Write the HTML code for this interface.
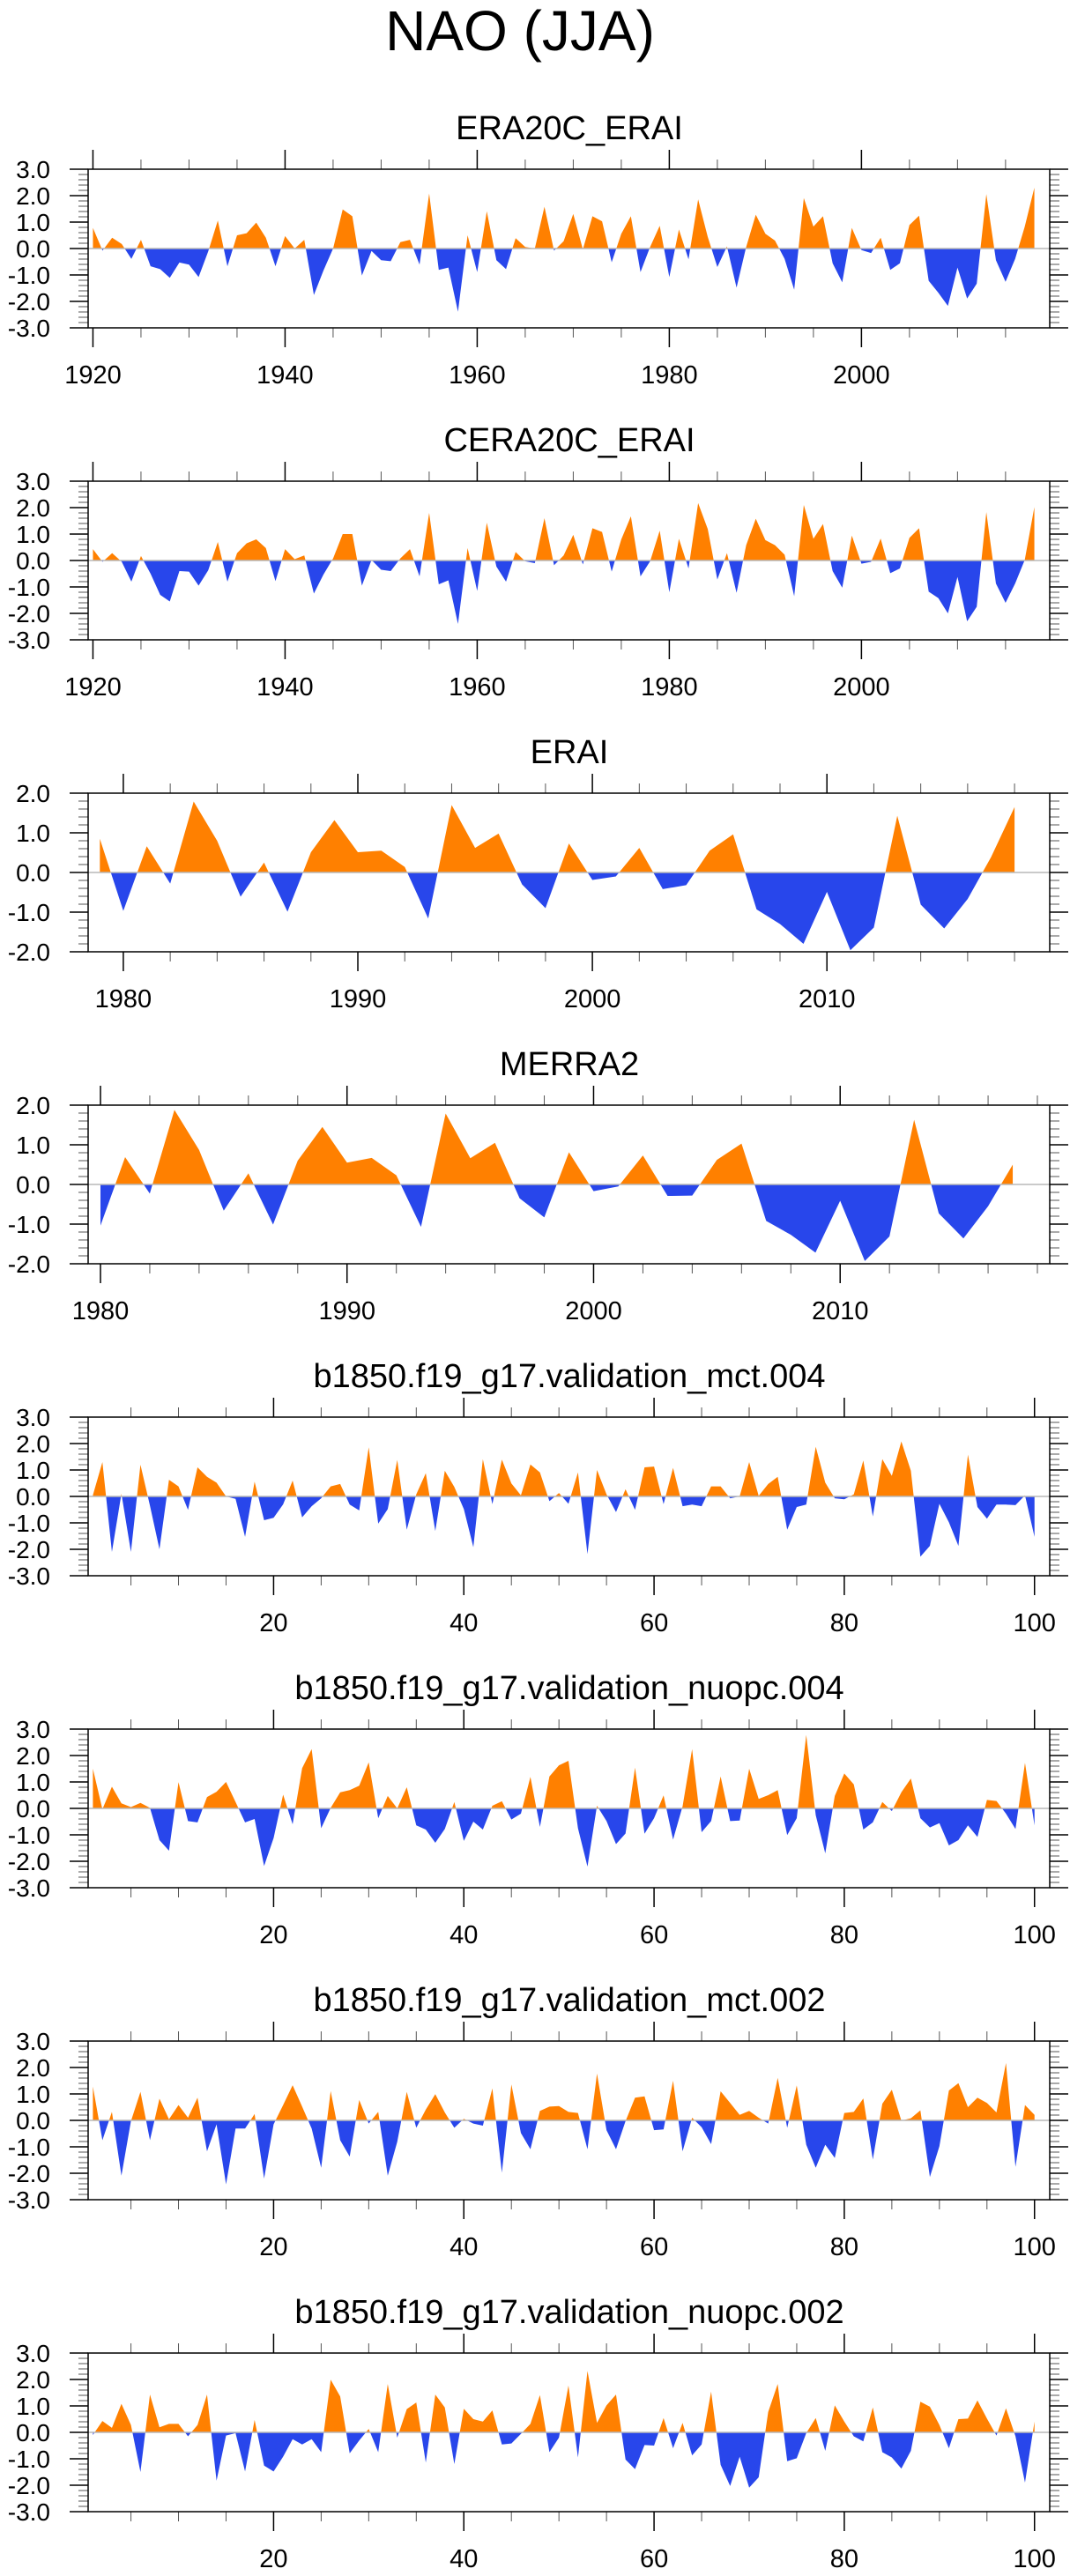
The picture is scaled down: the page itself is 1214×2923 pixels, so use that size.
<!DOCTYPE html>
<html><head><meta charset="utf-8"><title>NAO (JJA)</title>
<style>html,body{margin:0;padding:0;background:#fff;}svg{display:block;font-family:"Liberation Sans",sans-serif;}</style>
</head><body>
<svg id="chart" width="1214" height="2923" viewBox="0 0 1214 2923" xmlns="http://www.w3.org/2000/svg">
<text x="590" y="57" font-size="64" text-anchor="middle">NAO (JJA)</text>
</svg>
<script>
const era20cYears = Array.from({length:99},(_, i)=>1920+i);
const era20cValues = [0.78,-0.08,0.41,0.17,-0.39,0.33,-0.67,-0.78,-1.11,-0.53,-0.61,-1.08,-0.11,1.06,-0.67,0.5,0.58,0.98,0.41,-0.67,0.47,0.0,0.33,-1.76,-0.83,0.0,1.48,1.22,-1.02,-0.09,-0.44,-0.48,0.24,0.33,-0.61,2.08,-0.81,-0.72,-2.39,0.5,-0.89,1.41,-0.44,-0.78,0.39,0.06,0.0,1.58,-0.08,0.28,1.31,-0.03,1.22,1.03,-0.52,0.56,1.22,-0.89,0.06,0.86,-1.08,0.72,-0.41,1.86,0.44,-0.7,0.08,-1.48,0.06,1.28,0.56,0.3,-0.39,-1.56,1.91,0.83,1.22,-0.56,-1.28,0.78,-0.06,-0.17,0.41,-0.81,-0.56,0.89,1.24,-1.22,-1.67,-2.17,-0.72,-1.89,-1.33,2.06,-0.44,-1.26,-0.39,0.83,2.3];
const cera20cYears = Array.from({length:99},(_, i)=>1920+i);
const cera20cValues = [0.43,-0.05,0.28,-0.05,-0.8,0.17,-0.5,-1.3,-1.55,-0.4,-0.42,-0.95,-0.37,0.7,-0.8,0.28,0.65,0.8,0.47,-0.78,0.43,0.05,0.19,-1.25,-0.53,0.08,1.0,1.0,-0.95,0.02,-0.35,-0.4,0.08,0.43,-0.6,1.8,-0.9,-0.75,-2.4,0.47,-1.15,1.43,-0.23,-0.8,0.32,-0.03,-0.1,1.6,-0.18,0.19,0.97,-0.15,1.22,1.08,-0.42,0.8,1.67,-0.6,-0.03,1.13,-1.2,0.82,-0.3,2.17,1.19,-0.72,0.28,-1.22,0.58,1.58,0.77,0.58,0.22,-1.35,2.1,0.82,1.38,-0.4,-1.03,0.94,-0.12,-0.05,0.83,-0.48,-0.3,0.86,1.22,-1.18,-1.42,-2.0,-0.62,-2.3,-1.75,1.83,-0.87,-1.6,-0.87,0.02,2.02];
const eraiYears = Array.from({length:40},(_, i)=>1979+i);
const eraiValues = [0.85,-0.97,0.66,-0.28,1.79,0.8,-0.61,0.25,-0.99,0.51,1.32,0.51,0.55,0.14,-1.16,1.7,0.62,0.98,-0.3,-0.9,0.73,-0.19,-0.1,0.62,-0.42,-0.32,0.55,0.96,-0.93,-1.3,-1.8,-0.49,-1.96,-1.39,1.43,-0.81,-1.41,-0.67,0.39,1.65];
const merra2Years = Array.from({length:38},(_, i)=>1980+i);
const merra2Values = [-1.04,0.69,-0.23,1.88,0.87,-0.66,0.28,-1.01,0.6,1.45,0.55,0.67,0.23,-1.07,1.79,0.66,1.05,-0.35,-0.83,0.81,-0.17,-0.05,0.73,-0.29,-0.28,0.62,1.03,-0.92,-1.27,-1.72,-0.41,-1.93,-1.31,1.63,-0.73,-1.36,-0.55,0.5];
const modelYears = Array.from({length:100},(_, i)=>1+i);
const mct004Values = [0.05,1.3,-2.1,0.1,-2.1,1.2,-0.35,-2.0,0.63,0.38,-0.51,1.1,0.74,0.52,0.0,-0.09,-1.53,0.56,-0.9,-0.81,-0.3,0.6,-0.79,-0.37,-0.07,0.38,0.47,-0.31,-0.53,1.86,-1.03,-0.48,1.38,-1.26,0.08,0.88,-1.31,0.97,0.36,-0.48,-1.92,1.41,-0.29,1.39,0.49,0.04,1.21,0.91,-0.18,0.13,-0.28,0.91,-2.18,1.0,0.08,-0.59,0.27,-0.51,1.1,1.13,-0.29,1.08,-0.37,-0.31,-0.37,0.38,0.38,-0.07,0.0,1.3,0.02,0.47,0.74,-1.26,-0.4,-0.31,1.88,0.52,-0.07,-0.11,0.08,1.36,-0.76,1.41,0.78,2.08,0.97,-2.28,-1.87,-0.28,-0.98,-1.87,1.58,-0.4,-0.84,-0.31,-0.31,-0.33,0.04,-1.53];
const nuopc004Values = [1.5,-0.03,0.82,0.19,0.05,0.21,0.02,-1.2,-1.6,0.99,-0.48,-0.53,0.43,0.63,1.0,0.24,-0.53,-0.4,-2.18,-1.12,0.52,-0.6,1.52,2.24,-0.75,0.02,0.61,0.69,0.86,1.74,-0.37,0.47,0.0,0.8,-0.64,-0.8,-1.3,-0.78,0.24,-1.23,-0.5,-0.8,0.1,0.27,-0.42,-0.2,1.19,-0.7,1.21,1.63,1.8,-0.75,-2.2,0.1,-0.48,-1.35,-0.95,1.54,-0.96,-0.37,0.49,-1.18,0.08,2.24,-0.9,-0.48,1.21,-0.48,-0.46,1.5,0.36,0.5,0.69,-1.01,-0.37,2.78,-0.26,-1.7,0.47,1.32,0.91,-0.8,-0.53,0.24,-0.1,0.61,1.13,-0.37,-0.72,-0.56,-1.4,-1.2,-0.64,-1.08,0.32,0.28,-0.2,-0.78,1.72,-0.64];
const mct002Values = [1.28,-0.75,0.32,-2.09,-0.03,1.08,-0.75,0.82,0.04,0.58,0.1,0.86,-1.17,-0.15,-2.42,-0.31,-0.31,0.24,-2.2,-0.15,0.58,1.33,0.52,-0.31,-1.79,1.11,-0.75,-1.37,0.77,-0.12,0.32,-2.09,-0.81,1.08,-0.28,0.41,0.99,0.3,-0.28,0.06,-0.12,-0.2,1.21,-1.98,1.36,-0.48,-1.09,0.36,0.52,0.54,0.32,0.28,-1.09,1.77,-0.37,-1.09,-0.03,0.86,0.91,-0.37,-0.34,1.5,-1.17,0.1,-0.26,-0.9,1.1,0.66,0.21,0.36,0.1,-0.12,1.61,-0.28,1.32,-0.92,-1.79,-0.92,-1.42,0.28,0.32,0.83,-1.48,0.63,1.16,-0.01,0.08,0.38,-2.14,-0.98,1.13,1.41,0.5,0.86,0.66,0.3,2.17,-1.76,0.58,0.21];
const nuopc002Values = [-0.1,0.43,0.17,1.08,0.28,-1.5,1.43,0.19,0.32,0.32,-0.15,0.28,1.43,-1.83,-0.12,-0.03,-1.48,0.47,-1.26,-1.48,-0.92,-0.26,-0.46,-0.26,-0.75,1.99,1.36,-0.79,-0.31,0.13,-0.75,1.83,-0.2,0.88,1.13,-1.14,1.43,0.94,-1.2,0.89,0.5,0.41,0.83,-0.46,-0.42,-0.06,0.32,1.41,-0.75,-0.2,1.77,-0.95,2.32,0.36,1.02,1.43,-1.03,-1.39,-0.48,-0.5,0.54,-0.6,0.36,-0.87,-0.46,1.54,-1.23,-2.03,-0.92,-2.09,-1.7,0.77,1.83,-1.09,-0.98,-0.03,0.54,-0.7,1.02,0.41,-0.15,-0.34,0.94,-0.75,-0.95,-1.37,-0.7,1.16,0.97,0.28,-0.6,0.5,0.52,1.21,0.52,-0.12,0.91,-0.15,-1.9,0.41];
const yTicks3 = [-3,-2,-1,0,1,2,3];
const yTicks2 = [-2,-1,0,1,2];

const NS = 'http://www.w3.org/2000/svg';
const svg = document.getElementById('chart');
function mk(tag, attrs, parent){ const e=document.createElementNS(NS,tag); for(const k in attrs) e.setAttribute(k,attrs[k]); (parent||svg).appendChild(e); return e; }

const panels = [
 {key:'era20c-erai', title:'ERA20C_ERAI', xs:era20cYears, vs:era20cValues, xmin:1919.5, xmax:2019.6, major:20, minor:5, yt:yTicks3},
 {key:'cera20c-erai', title:'CERA20C_ERAI', xs:cera20cYears, vs:cera20cValues, xmin:1919.5, xmax:2019.6, major:20, minor:5, yt:yTicks3},
 {key:'erai', title:'ERAI', xs:eraiYears, vs:eraiValues, xmin:1978.5, xmax:2019.5, major:10, minor:2, yt:yTicks2},
 {key:'merra2', title:'MERRA2', xs:merra2Years, vs:merra2Values, xmin:1979.5, xmax:2018.5, major:10, minor:2, yt:yTicks2},
 {key:'mct-004', title:'b1850.f19_g17.validation_mct.004', xs:modelYears, vs:mct004Values, xmin:0.5, xmax:101.6, major:20, minor:5, yt:yTicks3},
 {key:'nuopc-004', title:'b1850.f19_g17.validation_nuopc.004', xs:modelYears, vs:nuopc004Values, xmin:0.5, xmax:101.6, major:20, minor:5, yt:yTicks3},
 {key:'mct-002', title:'b1850.f19_g17.validation_mct.002', xs:modelYears, vs:mct002Values, xmin:0.5, xmax:101.6, major:20, minor:5, yt:yTicks3},
 {key:'nuopc-002', title:'b1850.f19_g17.validation_nuopc.002', xs:modelYears, vs:nuopc002Values, xmin:0.5, xmax:101.6, major:20, minor:5, yt:yTicks3}
];

const L=100, R=1191, H=180;
panels.forEach((p, pi)=>{
  const T = 192 + pi*354, B = T+H;
  const ymin=p.yt[0], ymax=p.yt[p.yt.length-1];
  const sx = v => L + (v-p.xmin)/(p.xmax-p.xmin)*(R-L);
  const sy = v => B - (v-ymin)/(ymax-ymin)*H;
  const g = mk('g',{});
  
  
  const t = mk('text',{x:646,y:T-34,'font-size':38,'text-anchor':'middle'},g);
  
  
  t.textContent = p.title;
  const z = sy(0);
  const defs = mk('defs',{},g);
  const cpA = mk('clipPath',{id:'ca'+pi},defs); mk('rect',{x:L,y:T,width:R-L,height:z-T},cpA);
  const cpB = mk('clipPath',{id:'cb'+pi},defs); mk('rect',{x:L,y:z,width:R-L,height:B-z},cpB);
  let d = 'M'+sx(p.xs[0]).toFixed(2)+','+z.toFixed(2);
  p.xs.forEach((x,i)=>{ d += ' L'+sx(x).toFixed(2)+','+sy(p.vs[i]).toFixed(2); });
  d += ' L'+sx(p.xs[p.xs.length-1]).toFixed(2)+','+z.toFixed(2)+' Z';
  const pos = mk('path',{d:d,fill:'#ff8000','clip-path':'url(#ca'+pi+')'},g);
  
  
  const neg = mk('path',{d:d,fill:'#2846eb','clip-path':'url(#cb'+pi+')'},g);
  
  
  const zl = mk('line',{x1:L,x2:R,y1:z,y2:z,stroke:'#b8b8b8','stroke-width':1.5},g);
  
  
  // y ticks
  for(let v=ymin; v<=ymax+1e-9; v+=0.2){
    const y=sy(v); const isMaj = Math.abs(v-Math.round(v))<1e-6;
    const len = isMaj?21:11;
    mk('line',{x1:L-len,x2:L,y1:y,y2:y,stroke:isMaj?'#000':'#555','stroke-width':isMaj?1.5:1},g);
    mk('line',{x1:R,x2:R+len,y1:y,y2:y,stroke:isMaj?'#000':'#555','stroke-width':isMaj?1.5:1},g);
  }
  p.yt.forEach(v=>{
    const tl = mk('text',{x:57,y:sy(v)+10,'font-size':28,'text-anchor':'end'},g);
    
    
    tl.textContent = v.toFixed(1);
  });
  // x ticks
  const start = Math.ceil(p.xmin/p.minor)*p.minor;
  for(let v=start; v<=p.xmax; v+=p.minor){
    const x=sx(v); const isMaj = v%p.major===0;
    const len = isMaj?22:11;
    mk('line',{x1:x,x2:x,y1:T-len,y2:T,stroke:isMaj?'#000':'#555','stroke-width':isMaj?1.5:1},g);
    mk('line',{x1:x,x2:x,y1:B,y2:B+len,stroke:isMaj?'#000':'#555','stroke-width':isMaj?1.5:1},g);
    if(isMaj){
      const xl = mk('text',{x:x,y:B+63,'font-size':29,'text-anchor':'middle'},g);
      
      
      xl.textContent = String(v);
    }
  }
  const fr = mk('rect',{x:L,y:T,width:R-L,height:H,fill:'none',stroke:'#000','stroke-width':1.5},g);
  
  
});
</script>
</body></html>
